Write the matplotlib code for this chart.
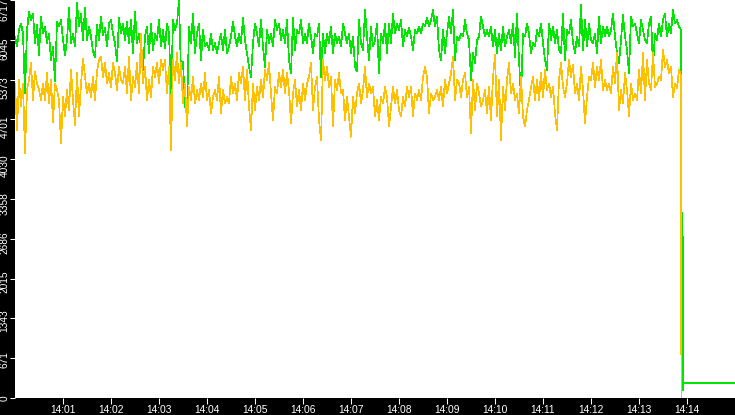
import numpy as np
import pandas as pd
import matplotlib
matplotlib.use('Agg')
import matplotlib.pyplot as plt
from matplotlib.transforms import ScaledTranslation

# samples every 2.5 s starting 14:00:00
sample_step_s = 2.5

green = [
    6100, 5930, 6210, 6320, 6150, 5140, 6210, 6520, 6380, 6490,
    5990, 6300, 5790, 6440, 6150, 6270, 5990, 6150, 5700, 5930,
    5340, 6350, 6270, 6380, 6040, 5790, 6040, 6580, 5990, 6150,
    5930, 6670, 6270, 6490, 6040, 6580, 6040, 6270, 6100, 5840,
    5760, 6300, 6040, 6440, 6130, 6240, 5930, 6320, 6380, 6150,
    5990, 5680, 6410, 6150, 6320, 6040, 6350, 5990, 6380, 5820,
    6520, 5990, 6150, 5930, 5540, 6100, 6270, 5820, 6320, 5870,
    6150, 6040, 6380, 5930, 6210, 5900, 6320, 6150, 5080, 6380,
    6210, 6320, 6710, 5480, 5680, 4920, 4800, 6270, 5990, 6490,
    5820, 6150, 6320, 5700, 6210, 5930, 5990, 5870, 6150, 5870,
    5990, 5820, 5990, 6150, 5870, 6210, 5820, 5930, 6100, 6350,
    6100, 5930, 6150, 5990, 6410, 6040, 5820, 5590, 5420, 5990,
    6320, 6150, 5930, 6380, 5930, 5590, 6210, 5990, 6150, 5930,
    6380, 6210, 6320, 6040, 6210, 5990, 6380, 5700,
    5480, 6410, 5870, 6210, 6150, 6380, 5990, 6150, 5990, 6320,
    6100, 5820, 6150, 6100, 6320, 5420, 6150, 5820, 6150, 5990,
    6270, 5820, 6150, 5990, 6100, 5930, 6320, 6150, 5990, 6150,
    5820, 6100, 5590, 5510, 6380, 5990, 5870, 6550, 6100, 5700,
    6270, 5930, 6040, 6320, 5480, 6150, 5990, 6320, 5820, 6320,
    5990, 6490, 6150, 6320, 6210, 6380, 5930, 6210, 6100, 6240,
    6100, 5870, 6210, 6150, 6270, 6150, 6320, 6270,
    6410, 6270, 6380, 6550, 6270, 6440, 5870, 5700, 6210, 5820,
    6150, 6440, 6150, 6550, 5700, 6100, 6040, 6150, 6100, 6380,
    6150, 6040, 5370, 5820, 5650, 6040, 6100, 6440, 6270, 6100,
    6210, 6100, 6270, 5930, 6210, 5820, 6150, 5870, 6270, 5930,
    6100, 6210, 5990, 6320, 5760, 6490, 5700, 5080, 6150, 6100,
    6320, 6150, 5820, 5990, 5930, 6210, 6100, 6320, 5990, 5700,
    5540, 6320, 6040, 6270, 5990, 6210, 5870,
    5820, 6490, 5700, 6210, 6150, 6380, 5990, 5820, 6100, 5930,
    6630, 5870, 6380, 5930, 6320, 6040, 5990, 6150, 5820, 6440,
    5990, 6270, 6100, 6270, 6100, 6210, 6490, 6100, 5820, 5650,
    6040, 6460, 6100, 5870, 5480, 6440, 6270, 6320, 6150, 5990,
    6380, 6210, 6040, 5990, 6320, 6440, 5590, 6150, 6040, 6320,
    6100, 6380, 6490, 6100, 6320, 6150, 6550, 6320, 6380, 6270,
    6210,
]

orange = [
    5310, 4520, 5370, 4920, 5310, 4130, 5200, 5370, 5650, 5030,
    5510, 5310, 5200, 5030, 5310, 5030, 5480, 4970, 5370, 4660,
    5310, 5200, 5030, 4300, 5080, 4750, 5200, 4860, 5540, 5030,
    4610, 5480, 4750, 5310, 5730, 5420, 5140, 5310, 5080, 5420,
    5030, 5510, 5700, 5760, 5420, 5650, 5310, 5480, 5250, 5650,
    5480, 5200, 5590, 5370, 5310, 5590, 5140, 5760, 5030, 5420,
    5250, 5650, 5140, 6150, 5310, 5590, 5030, 5370, 5080, 5590,
    5420, 5650, 5310, 5700, 5540, 5700, 5140, 5590, 4180, 5700,
    5370, 5820, 5310, 5650, 4970, 5310, 4580, 5250, 5030, 5420,
    4970, 5200, 5030, 5310, 5080, 5480, 5030, 5200, 4800, 5080,
    5200, 5030, 5420, 4800, 5200, 4970, 5080, 4970, 5420, 5140,
    5310, 5030, 5480, 5310, 5590, 5030, 5540, 4920, 4520, 5310,
    4860, 5250, 5030, 5370, 5080, 5540, 5370, 5650, 5140, 4690,
    5250, 5140, 5480, 5250, 5540, 5140, 5480, 5200,
    4630, 5140, 5370, 4920, 5200, 4860, 5310, 5030, 5310, 5420,
    5650, 4860, 5250, 5420, 4690, 4350, 5700, 5370, 5590, 5250,
    5420, 4580, 5370, 5200, 5480, 5140, 5200, 4690, 5080, 4750,
    4410, 5080, 4800, 5140, 5310, 4970, 5200, 5590, 5080, 5310,
    5140, 5250, 4750, 5030, 4690, 5080, 4970, 5250, 5080, 4580,
    4920, 5250, 4970, 5200, 4860, 4750, 5080, 4920, 5250, 5080,
    5250, 4750, 5140, 5030, 5200, 5030, 5420, 5590,
    5420, 4800, 5140, 5030, 5080, 5200, 5030, 5250, 4920, 5370,
    5140, 5310, 5480, 5760, 5030, 5370, 5310, 5080, 5370, 5480,
    5080, 5250, 4470, 5370, 4860, 5310, 5140, 4920, 5030, 5200,
    4800, 5250, 4690, 5420, 5790, 4750, 5370, 4350, 5250, 4860,
    5370, 5650, 5140, 5310, 5030, 5140, 4800, 5420, 4750, 4580,
    4860, 5030, 5250, 5420, 5030, 5370, 5030, 5480, 5080, 5540,
    5200, 5310, 5080, 5250, 4800, 4520, 5370,
    5650, 5250, 5080, 5310, 5700, 5420, 5620, 5140, 5310, 5030,
    5590, 5200, 4630, 5080, 5420, 5370, 5650, 5250, 5590, 5370,
    5700, 5200, 5370, 5200, 5310, 5140, 5590, 5310, 5820, 4860,
    5200, 4970, 5480, 5200, 4750, 5310, 5030, 5140, 5030, 5540,
    5140, 5820, 5030, 5700, 5310, 5200, 5820, 5250, 5310, 5420,
    5370, 5870, 5590, 5700, 5480, 5590, 5080, 5310, 5230, 5540,
    5450,
]

# the collapse at the end of the run (seconds after 14:00:00)
green_tail_s = [833.0, 834.0, 834.6, 835.2, 835.8, 900.0]
green_tail = [3130, 3130, 2700, 130, 250, 250]
orange_tail_s = [833.0]
orange_tail = [0]

y_max = 6717
minute_labels = ['14:%02d' % m for m in range(1, 15)]

start = pd.Timestamp('2024-01-01 14:00:00')


def to_times(seconds):
    return start + pd.to_timedelta(np.asarray(seconds, dtype=float), unit='s')


green_s = np.concatenate([np.arange(len(green)) * sample_step_s, green_tail_s])
orange_s = np.concatenate([np.arange(len(orange)) * sample_step_s, orange_tail_s])

fig = plt.figure(figsize=(7.35, 4.15), dpi=100, facecolor='black')
ax = fig.add_axes([15 / 735, 17 / 415, 720 / 735, 398 / 415])
ax.set_facecolor('white')

ax.plot(to_times(green_s), green + green_tail, color='#00e600', lw=0.5,
        antialiased=False, zorder=2)
ax.plot(to_times(orange_s), orange + orange_tail, color='#ffc000', lw=0.5,
        antialiased=False, zorder=3)

ax.set_xlim(start, start + pd.Timedelta(minutes=15))
ax.set_ylim(0, y_max)

for s in ax.spines.values():
    s.set_visible(False)

xt = [pd.Timestamp('2024-01-01 ' + m + ':00') for m in minute_labels]
ax.set_xticks(xt)
ax.set_xticklabels(minute_labels, fontsize=7.4, family='Liberation Sans', color='white')
ax.tick_params(axis='x', colors='white', length=4.4, width=0.75, pad=0.5)

yt = np.linspace(0, y_max, 11)
ax.set_yticks(yt)
ax.set_yticklabels(['%d' % v for v in yt], fontsize=7.3, family='Liberation Sans',
                   color='white', rotation=90, va='center')
ax.tick_params(axis='y', colors='white', length=3.6, width=0.75, pad=0.2)
for lab, v in zip(ax.get_yticklabels(), yt):
    dy = 10 * v / y_max / 100
    lab.set_transform(lab.get_transform() + ScaledTranslation(0, -dy, fig.dpi_scale_trans))

fig.savefig('out.png', dpi=100, facecolor='black')
